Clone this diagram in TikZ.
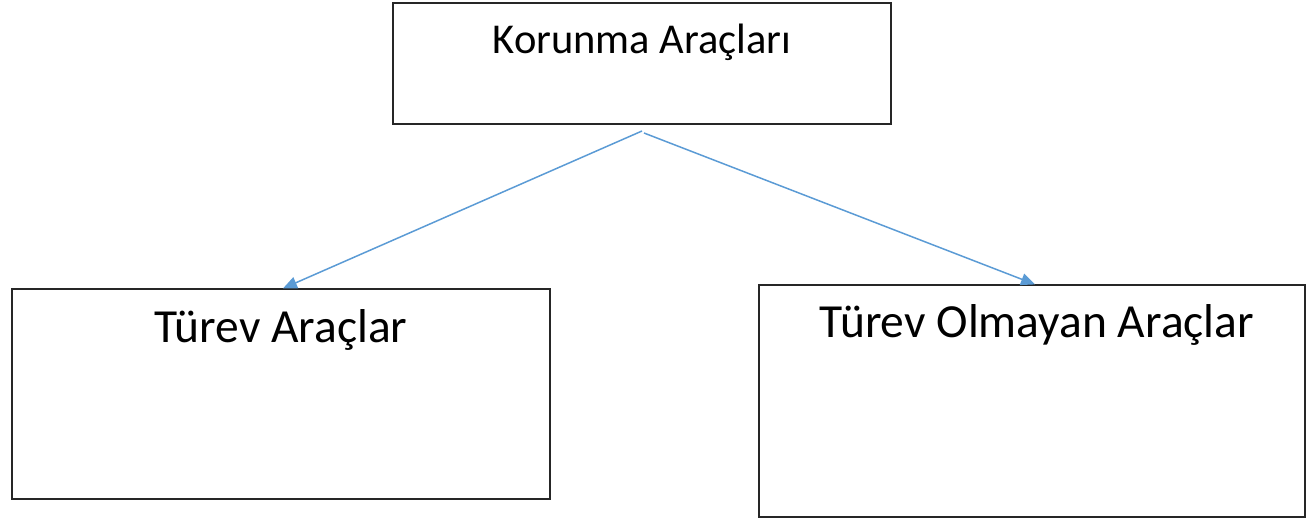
\documentclass[tikz,border=0pt]{standalone}
\usepackage{fontspec}
\setmainfont{Carlito}
\usetikzlibrary{arrows.meta}
\definecolor{officeblue}{RGB}{91,155,213}

\begin{document}
\begin{tikzpicture}[
  x=1pt, y=1pt,
  boxnode/.style={rectangle, draw=black!85, line width=1.2pt, inner sep=0pt},
  toptext/.style={anchor=base, inner sep=0pt, font=\fontsize{42.5}{50}\selectfont},
  subtext/.style={anchor=base, inner sep=0pt, font=\fontsize{47.5}{56}\selectfont},
  link/.style={draw=officeblue, line width=1.5pt, -{Triangle[length=14pt, width=12pt]}},
]
\useasboundingbox (0,0) rectangle (1307,-522);

\node[boxnode, minimum width=498pt, minimum height=121pt] (korunma) at (642,-63.5) {};
\node[boxnode, minimum width=538pt, minimum height=210pt] (turev) at (281,-394) {};
\node[boxnode, minimum width=546pt, minimum height=232pt] (olmayan) at (1032,-401) {};

\node[toptext] (korunmalbl) at (642,-53) {Korunma Araçları};
\node[subtext] (turevlbl) at (281,-342) {Türev Araçlar};
\node[subtext] (olmayanlbl) at (1037,-337) {Türev Olmayan Araçlar};

\coordinate (splitl) at (642,-131);
\coordinate (splitr) at (644,-133);

\draw[link] (splitl) -- ([xshift=2pt]turev.north);
\draw[link] (splitr) -- ([xshift=3pt]olmayan.north);

\end{tikzpicture}
\end{document}
